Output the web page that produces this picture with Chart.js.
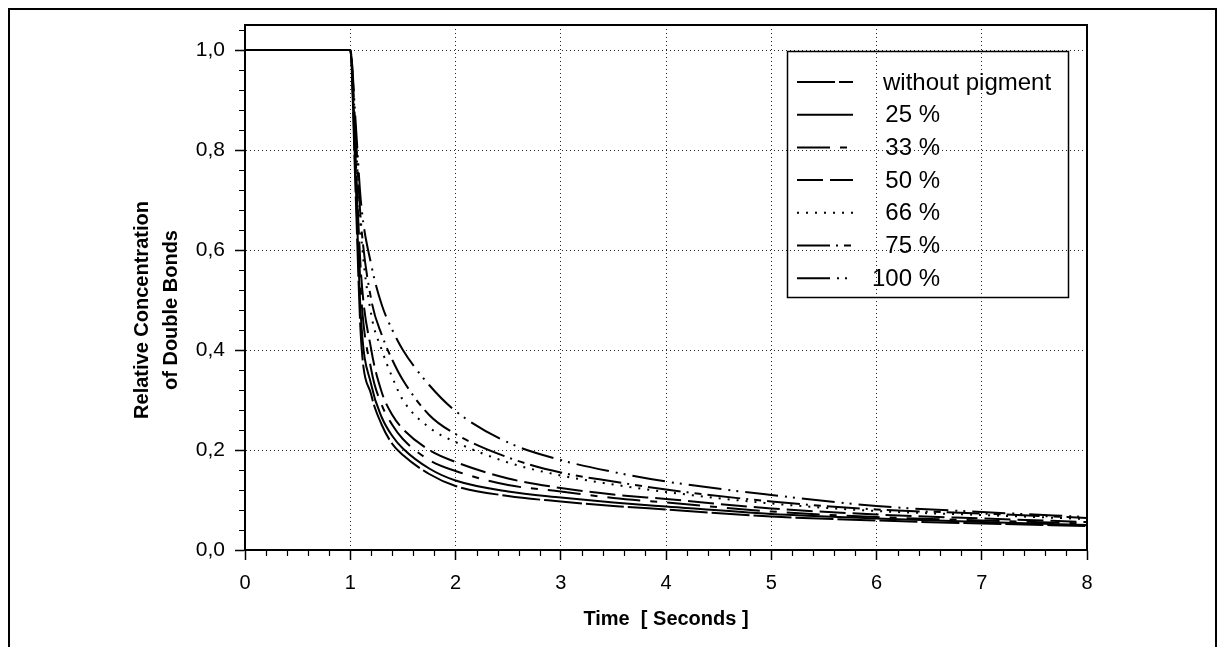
<!DOCTYPE html>
<html>
<head>
<meta charset="utf-8">
<script src="https://cdn.jsdelivr.net/npm/chart.js@4.4.0/dist/chart.umd.min.js"></script>
<style>
  html, body { margin: 0; padding: 0; background: #fff; }
  #wrap { width: 1219px; height: 647px; }
</style>
</head>
<body>
<div id="wrap"><canvas id="chart" width="1219" height="647"></canvas></div>
<script>
// values (time in seconds, relative concentration)
const timePoints = [0, 1, 1.05, 1.1, 1.2, 1.3, 1.4, 1.5, 1.75, 2, 2.5, 3, 3.5, 4, 5, 6, 7, 8];
const seriesNames = ['without pigment', '25 %', '33 %', '50 %', '66 %', '75 %', '100 %'];
const withoutPigment = [1, 1, 0.72, 0.43, 0.31, 0.25, 0.212, 0.19, 0.152, 0.128, 0.108, 0.097, 0.088, 0.081, 0.067, 0.059, 0.053, 0.048];
const pigment25 = [1, 1, 0.75, 0.47, 0.33, 0.265, 0.228, 0.203, 0.163, 0.139, 0.117, 0.105, 0.095, 0.087, 0.072, 0.063, 0.056, 0.050];
const pigment33 = [1, 1, 0.77, 0.52, 0.36, 0.29, 0.25, 0.222, 0.18, 0.158, 0.13, 0.117, 0.104, 0.095, 0.077, 0.066, 0.059, 0.053];
const pigment50 = [1, 1, 0.79, 0.56, 0.40, 0.315, 0.27, 0.242, 0.20, 0.176, 0.143, 0.124, 0.111, 0.102, 0.083, 0.071, 0.063, 0.056];
const pigment66 = [1, 1, 0.83, 0.64, 0.47, 0.40, 0.345, 0.30, 0.245, 0.216, 0.175, 0.149, 0.131, 0.116, 0.093, 0.078, 0.070, 0.062];
const pigment75 = [1, 1, 0.84, 0.66, 0.50, 0.43, 0.38, 0.34, 0.27, 0.232, 0.185, 0.155, 0.137, 0.121, 0.097, 0.081, 0.073, 0.064];
const pigment100 = [1, 1, 0.86, 0.70, 0.57, 0.49, 0.44, 0.40, 0.33, 0.278, 0.215, 0.18, 0.156, 0.137, 0.11, 0.088, 0.076, 0.066];
const xTicks = [0, 1, 2, 3, 4, 5, 6, 7, 8];

const allSeries = [withoutPigment, pigment25, pigment33, pigment50, pigment66, pigment75, pigment100];
const dashes = [
  [38, 4],
  [],
  [33, 10, 7, 10],
  [26, 7],
  [2, 7],
  [33, 6, 2, 6, 7, 6],
  [33, 7, 2, 6, 2, 7]
];

const FONT = '"Liberation Sans", Arial, Helvetica, sans-serif';

// frame, minor ticks, legend and axis titles
const decorations = {
  id: 'decorations',
  afterDraw(chart) {
    const ctx = chart.ctx;
    const area = chart.chartArea;
    const xs = chart.scales.x, ys = chart.scales.y;
    ctx.save();
    ctx.strokeStyle = '#000';

    // outer page frame
    ctx.lineWidth = 2;
    ctx.beginPath();
    ctx.moveTo(9, 647); ctx.lineTo(9, 9); ctx.lineTo(1216, 9); ctx.lineTo(1216, 647);
    ctx.stroke();

    // top and right side of plot box
    ctx.beginPath();
    ctx.moveTo(area.left, area.top); ctx.lineTo(area.right, area.top); ctx.lineTo(area.right, area.bottom);
    ctx.stroke();

    // minor ticks
    ctx.lineWidth = 1.2;
    ctx.beginPath();
    for (let i = 1; i < 40; i++) {
      if (i % 5 === 0) continue;
      const px = Math.round(xs.getPixelForValue(i * 0.2)) + 0.5;
      ctx.moveTo(px, area.bottom); ctx.lineTo(px, area.bottom + 6);
    }
    for (let i = 1; i <= 26; i++) {
      if (i % 5 === 0) continue;
      const py = Math.round(ys.getPixelForValue(i * 0.04)) + 0.5;
      ctx.moveTo(area.left - 6, py); ctx.lineTo(area.left, py);
    }
    ctx.stroke();

    // legend
    ctx.lineWidth = 1.5;
    ctx.strokeRect(787.5, 51.5, 281, 246);
    ctx.font = '24px ' + FONT;
    ctx.fillStyle = '#000';
    ctx.textBaseline = 'middle';
    chart.data.datasets.forEach((ds, i) => {
      const y = 82 + i * 32.7;
      ctx.save();
      ctx.lineWidth = 2;
      ctx.setLineDash(ds.borderDash);
      ctx.beginPath();
      ctx.moveTo(797, y); ctx.lineTo(853, y);
      ctx.stroke();
      ctx.restore();
      if (i === 0) {
        ctx.textAlign = 'left';
        ctx.fillText(ds.label, 883, y + 1);
      } else {
        ctx.textAlign = 'right';
        ctx.fillText(ds.label, 940, y + 1);
      }
    });

    // axis titles
    ctx.font = 'bold 20px ' + FONT;
    ctx.textAlign = 'center';
    ctx.fillText('Time  [ Seconds ]', (area.left + area.right) / 2, 619);
    ctx.save();
    ctx.translate(142, 310);
    ctx.rotate(-Math.PI / 2);
    ctx.fillText('Relative Concentration', 0, 0);
    ctx.fillText('of Double Bonds', 0, 29);
    ctx.restore();

    ctx.restore();
  }
};

const ctx = document.getElementById('chart').getContext('2d');
new Chart(ctx, {
  type: 'line',
  data: {
    datasets: seriesNames.map((name, i) => ({
      label: name,
      data: timePoints.map((t, j) => ({ x: t, y: allSeries[i][j] })),
      borderColor: '#000',
      borderWidth: 2,
      borderDash: dashes[i],
      pointRadius: 0,
      fill: false,
      cubicInterpolationMode: 'monotone'
    }))
  },
  options: {
    responsive: false,
    animation: false,
    devicePixelRatio: 1,
    layout: { padding: { left: 0, top: 25, right: 1219 - 1087, bottom: 0 } },
    plugins: {
      legend: { display: false },
      tooltip: { enabled: false }
    },
    scales: {
      x: {
        type: 'linear',
        min: 0,
        max: 8,
        afterFit: (scale) => { scale.height = 97; },
        afterBuildTicks: (scale) => { scale.ticks = xTicks.map(v => ({ value: v })); },
        ticks: {
          color: '#000',
          font: { family: FONT, size: 20 },
          padding: 11,
          maxRotation: 0,
          callback: (v) => String(v)
        },
        grid: {
          color: (c) => (c.tick && c.tick.value > 0 && c.tick.value < 8) ? '#222' : 'rgba(0,0,0,0)',
          lineWidth: 1,
          tickColor: '#000',
          tickLength: 10,
          tickWidth: 1.5,
          tickBorderDash: []
        },
        border: { display: true, color: '#000', width: 2, dash: [1, 3] }
      },
      y: {
        min: 0,
        max: 1.05,
        afterFit: (scale) => { scale.width = 245; },
        ticks: {
          stepSize: 0.2,
          includeBounds: false,
          color: '#000',
          font: { family: FONT, size: 21 },
          padding: 10,
          callback: (v) => v.toFixed(1).replace('.', ',')
        },
        grid: {
          color: (c) => (c.tick && c.tick.value > 0.01) ? '#222' : 'rgba(0,0,0,0)',
          lineWidth: 1,
          tickColor: '#000',
          tickLength: 10,
          tickWidth: 1.5,
          tickBorderDash: []
        },
        border: { display: true, color: '#000', width: 2, dash: [1, 3] }
      }
    }
  },
  plugins: [decorations]
});
</script>
</body>
</html>
